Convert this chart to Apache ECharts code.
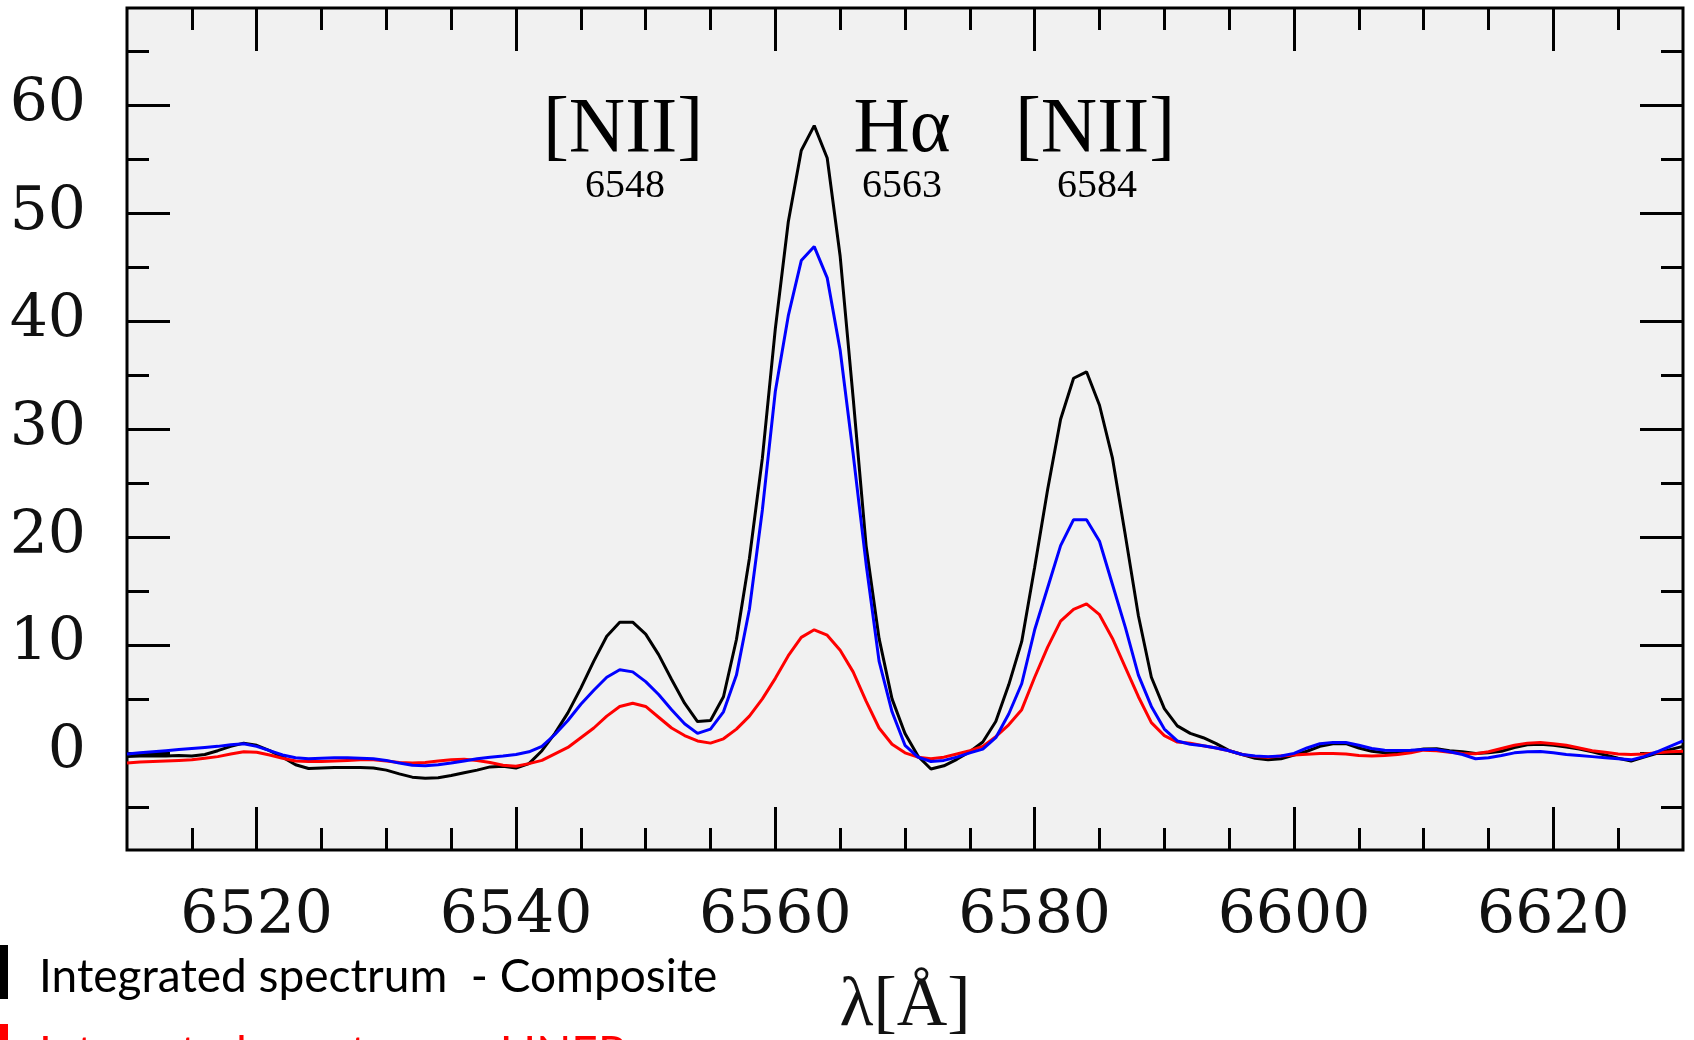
<!DOCTYPE html>
<html>
<head>
<meta charset="utf-8">
<script src="https://cdn.jsdelivr.net/npm/echarts@6/dist/echarts.min.js"></script>
<style>
  html, body { margin: 0; padding: 0; background: #ffffff; overflow: hidden; }
  #chart { width: 1694px; height: 1040px; }
</style>
</head>
<body>
<div id="chart"></div>
<script>
// Wavelength grid (Angstrom)
const wavelength = [
  6510, 6511, 6512, 6513, 6514, 6515, 6516, 6517, 6518, 6519,
  6520, 6521, 6522, 6523, 6524, 6525, 6526, 6527, 6528, 6529,
  6530, 6531, 6532, 6533, 6534, 6535, 6536, 6537, 6538, 6539,
  6540, 6541, 6542, 6543, 6544, 6545, 6546, 6547, 6548, 6549,
  6550, 6551, 6552, 6553, 6554, 6555, 6556, 6557, 6558, 6559,
  6560, 6561, 6562, 6563, 6564, 6565, 6566, 6567, 6568, 6569,
  6570, 6571, 6572, 6573, 6574, 6575, 6576, 6577, 6578, 6579,
  6580, 6581, 6582, 6583, 6584, 6585, 6586, 6587, 6588, 6589,
  6590, 6591, 6592, 6593, 6594, 6595, 6596, 6597, 6598, 6599,
  6600, 6601, 6602, 6603, 6604, 6605, 6606, 6607, 6608, 6609,
  6610, 6611, 6612, 6613, 6614, 6615, 6616, 6617, 6618, 6619,
  6620, 6621, 6622, 6623, 6624, 6625, 6626, 6627, 6628, 6629,
  6630
];

// Integrated spectrum, composite (black)
const fluxComposite = [
  -0.35, -0.3, -0.3, -0.3, -0.25, -0.3, -0.15, 0.2, 0.6, 0.9,
  0.7, 0.2, -0.4, -1.1, -1.45, -1.4, -1.35, -1.35, -1.35, -1.4,
  -1.6, -1.95, -2.25, -2.35, -2.3, -2.1, -1.85, -1.6, -1.3, -1.25,
  -1.4, -1.0, 0.2, 1.8, 3.7, 6.0, 8.5, 10.8, 12.1, 12.1,
  11.0, 9.1, 6.8, 4.6, 2.9, 3.0, 5.2, 10.5, 18.0, 27.3,
  39.3, 49.2, 55.8, 58.1, 55.1, 46.0, 32.9, 19.2, 10.6, 5.0,
  1.8, -0.3, -1.5, -1.2, -0.6, 0.1, 1.0, 2.9, 6.3, 10.3,
  17.2, 24.4, 30.9, 34.7, 35.3, 32.2, 27.3, 20.1, 12.7, 7.0,
  4.1, 2.5, 1.8, 1.4, 0.85, 0.2, -0.15, -0.5, -0.65, -0.55,
  -0.2, 0.15, 0.6, 0.85, 0.85, 0.45, 0.15, 0.0, -0.03, 0.15,
  0.35, 0.38, 0.2, 0.1, -0.05, 0.0, 0.15, 0.5, 0.75, 0.8,
  0.7, 0.55, 0.35, 0.1, -0.2, -0.5, -0.75, -0.4, -0.05, 0.3,
  0.6
];

// Integrated spectrum, LINER component (red)
const fluxRed = [
  -0.95, -0.85, -0.8, -0.75, -0.7, -0.65, -0.5, -0.35, -0.1, 0.1,
  0.05, -0.2, -0.5, -0.75, -0.8, -0.8, -0.75, -0.7, -0.65, -0.65,
  -0.75, -0.9, -0.95, -0.9, -0.75, -0.65, -0.6, -0.7, -0.9, -1.15,
  -1.25, -1.0, -0.7, -0.1, 0.5, 1.4, 2.3, 3.4, 4.3, 4.6,
  4.3, 3.3, 2.3, 1.6, 1.1, 0.9, 1.3, 2.2, 3.4, 5.0,
  6.9, 9.0, 10.7, 11.4, 10.9, 9.5, 7.5, 4.8, 2.3, 0.8,
  0.0, -0.4, -0.55, -0.4, -0.1, 0.2, 0.6, 1.5, 2.6, 4.0,
  7.0, 9.8, 12.2, 13.3, 13.8, 12.8, 10.6, 7.9, 5.2, 2.8,
  1.6, 1.0, 0.9, 0.65, 0.45, 0.2, -0.15, -0.35, -0.4, -0.3,
  -0.2, -0.12, -0.06, -0.06, -0.1, -0.25, -0.3, -0.25, -0.15, 0.0,
  0.25, 0.2, 0.05, -0.05, -0.09, 0.1, 0.4, 0.7, 0.9, 0.95,
  0.85, 0.7, 0.45, 0.2, 0.05, -0.1, -0.15, -0.1, 0.0, 0.1,
  0.15
];

// Integrated spectrum, third component (blue)
const fluxBlue = [
  -0.1, 0.0, 0.1, 0.2, 0.3, 0.4, 0.5, 0.6, 0.75, 0.85,
  0.6, 0.2, -0.2, -0.45, -0.55, -0.5, -0.45, -0.45, -0.5, -0.55,
  -0.7, -0.95, -1.15, -1.2, -1.1, -0.95, -0.75, -0.55, -0.4, -0.3,
  -0.15, 0.1, 0.6, 1.7, 3.0, 4.5, 5.8, 7.0, 7.7, 7.5,
  6.6, 5.4, 4.0, 2.7, 1.8, 2.2, 3.8, 7.2, 13.3, 22.5,
  33.5, 40.5, 45.6, 46.9, 44.0, 37.3, 27.7, 17.5, 8.5, 3.8,
  0.7, -0.4, -0.8, -0.7, -0.4, 0.0, 0.35, 1.4, 3.6, 6.4,
  11.4, 15.3, 19.2, 21.6, 21.6, 19.6, 15.6, 11.6, 7.2, 4.3,
  2.2, 1.1, 0.8, 0.65, 0.45, 0.2, -0.15, -0.3, -0.35, -0.3,
  -0.05, 0.45, 0.85, 0.97, 0.95, 0.7, 0.4, 0.25, 0.22, 0.25,
  0.32, 0.3, 0.1, -0.15, -0.55, -0.45, -0.25, 0.0, 0.1, 0.12,
  0.0, -0.15, -0.25, -0.35, -0.45, -0.55, -0.65, -0.35, 0.1, 0.6,
  1.1
];

// Axis ticks
const xMajorTicks = [6520, 6540, 6560, 6580, 6600, 6620];
const xMinorTicks = [6515, 6525, 6530, 6535, 6545, 6550, 6555, 6565, 6570, 6575,
                     6585, 6590, 6595, 6605, 6610, 6615, 6625];
const yMajorTicks = [0, 10, 20, 30, 40, 50, 60];
const yMinorTicks = [-5, 5, 15, 25, 35, 45, 55, 65];

// Emission line annotations
const lineNames = ['[NII]', 'H\u03b1', '[NII]'];
const lineWaves = ['6548', '6563', '6584'];

// Legend entries
const legendTexts = ['Integrated spectrum  - Composite', 'Integrated spectrum  - LINER'];

const X_MIN = 6510, X_MAX = 6630, Y_MIN = -9, Y_MAX = 69;

const chart = echarts.init(document.getElementById('chart'), null, { renderer: 'canvas' });

const tickStyle = { color: '#000', width: 3 };
const serifLabel = { fontFamily: 'DejaVu Serif', fontSize: 60, color: '#111', formatter: v => String(v) };

function xAxisDef(position, ticks, len, withLabels) {
  const ax = {
    type: 'value', position: position, min: X_MIN, max: X_MAX,
    axisLine: { show: false, onZero: false },
    splitLine: { show: false },
    axisTick: { show: true, inside: true, length: len, customValues: ticks, lineStyle: tickStyle },
    axisLabel: { show: false }
  };
  if (withLabels) {
    ax.axisLabel = Object.assign({ show: true, margin: 37, customValues: ticks }, serifLabel);
    ax.name = '\u03bb[\u00c5]';
    ax.nameLocation = 'middle';
    ax.nameGap = 122;
    ax.nameTextStyle = { fontFamily: 'Liberation Serif', fontSize: 70, color: '#111' };
  }
  return ax;
}

function yAxisDef(position, ticks, len, withLabels) {
  const ax = {
    type: 'value', position: position, min: Y_MIN, max: Y_MAX,
    axisLine: { show: false, onZero: false },
    splitLine: { show: false },
    axisTick: { show: true, inside: true, length: len, customValues: ticks, lineStyle: tickStyle },
    axisLabel: { show: false }
  };
  if (withLabels) {
    ax.axisLabel = Object.assign({ show: true, margin: 41, customValues: ticks }, serifLabel);
  }
  return ax;
}

function pairs(values) {
  return wavelength.map((w, i) => [w, values[i]]);
}

function lineSeries(name, values, color, z) {
  return {
    name: name, type: 'line', xAxisIndex: 0, yAxisIndex: 0,
    data: pairs(values), showSymbol: false, symbol: 'none', smooth: false,
    lineStyle: { color: color, width: 3 }, z: z, animation: false
  };
}

// Annotation text above the peaks
const annotX = [623, 902, 1095];
const annotXSub = [625, 902, 1097];
const graphics = [];
lineNames.forEach((t, i) => {
  graphics.push({
    type: 'text', x: annotX[i], y: 131, z: 50,
    style: { text: t, fill: '#000', font: '78px "Liberation Serif"', textAlign: 'center', textVerticalAlign: 'middle' }
  });
  graphics.push({
    type: 'text', x: annotXSub[i], y: 186, z: 50,
    style: { text: lineWaves[i], fill: '#000', font: '40px "Liberation Serif"', textAlign: 'center', textVerticalAlign: 'middle' }
  });
});

// Legend swatches and labels at the bottom left
const legendColors = ['#000000', '#ff0000'];
const legendTops = [945, 1024];
const legendTextY = [977, 1054];
legendTexts.forEach((t, i) => {
  graphics.push({
    type: 'rect', shape: { x: 0, y: legendTops[i], width: 8, height: 54 },
    style: { fill: legendColors[i] }, z: 50
  });
  graphics.push({
    type: 'text', x: 39, y: legendTextY[i], z: 50,
    style: { text: t, fill: legendColors[i], font: '46px Lato', textAlign: 'left', textVerticalAlign: 'middle' }
  });
});

chart.setOption({
  animation: false,
  backgroundColor: '#ffffff',
  grid: {
    left: 127, top: 8, right: 11, bottom: 190,
    show: true, backgroundColor: '#f1f1f1', borderColor: '#000', borderWidth: 3,
    containLabel: false, outerBoundsMode: 'none'
  },
  xAxis: [
    xAxisDef('bottom', xMajorTicks, 43, true),
    xAxisDef('bottom', xMinorTicks, 22, false),
    xAxisDef('top', xMajorTicks, 43, false),
    xAxisDef('top', xMinorTicks, 22, false)
  ],
  yAxis: [
    yAxisDef('left', yMajorTicks, 43, true),
    yAxisDef('left', yMinorTicks, 22, false),
    yAxisDef('right', yMajorTicks, 43, false),
    yAxisDef('right', yMinorTicks, 22, false)
  ],
  series: [
    lineSeries('Composite', fluxComposite, '#000000', 3),
    lineSeries('LINER', fluxRed, '#ff0000', 4),
    lineSeries('Blue component', fluxBlue, '#0000ff', 5)
  ],
  graphic: graphics
});
</script>
</body>
</html>
